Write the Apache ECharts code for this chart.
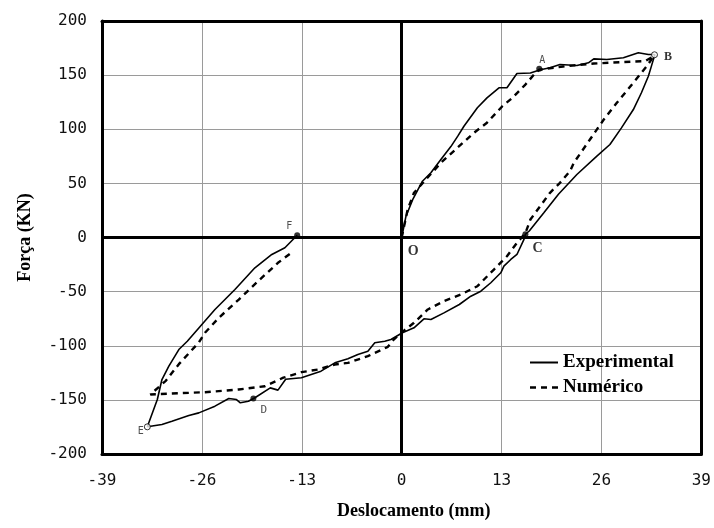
<!DOCTYPE html>
<html>
<head>
<meta charset="utf-8">
<script src="https://cdn.jsdelivr.net/npm/echarts@6/dist/echarts.min.js"></script>
<style>html,body{margin:0;padding:0;background:#fff}#c{width:714px;height:528px}</style>
</head>
<body>
<div id="c"></div>
<script>
// ---- data ----
var xTicks = [-39, -26, -13, 0, 13, 26, 39];
var yTicks = [-200, -150, -100, -50, 0, 50, 100, 150, 200];

var expX = [0, 0.56, 1.43, 2.7, 3.8, 5.1, 6.4, 7.3, 8.1, 9.85, 11.1, 12.66, 13.7, 15.0, 16.75, 18.05, 19.3, 20.6, 22.8, 24.3, 25.0, 26.7, 28.85, 30.8, 32.1, 32.95, 32.5, 32.1, 31.2, 30.15, 28.6, 27.1, 25.4, 22.8, 20.4, 18.5, 16.6, 16.1, 15.9, 15.0, 14.2, 13.3, 12.9, 11.6, 10.3, 9.0, 7.5, 5.5, 3.8, 2.9, 1.6, 0.1, -1.4, -2.2, -3.5, -4.4, -5.7, -7.0, -8.7, -10.5, -13.05, -15.1, -16.1, -17.1, -19.1, -19.95, -21.0, -21.5, -22.5, -24.3, -26.4, -27.7, -29.9, -31.2, -33.1, -31.8, -31.2, -30.3, -29.0, -27.9, -26.2, -24.3, -21.7, -19.1, -16.9, -15.2, -13.6];
var expY = [0, 19.7, 35, 52, 59.8, 72, 84, 93.6, 102.8, 119.8, 129, 138.3, 138.3, 151.5, 152, 155, 156.8, 159.8, 158.9, 161.4, 165, 164.4, 166, 170.6, 169, 169, 158.3, 149, 133.7, 118.2, 101.3, 85.9, 75.1, 58.2, 40, 22.8, 6, 3, -2, -15.7, -20.3, -26.5, -32.6, -41.8, -49.6, -54.2, -61.9, -69.6, -75.8, -75.1, -83.4, -88, -94.2, -95.8, -97.3, -105, -108, -112, -115.8, -123.5, -129.6, -131, -141, -138.9, -148, -151.2, -152.7, -149.7, -148.7, -155.8, -162, -164.4, -169.7, -172.7, -174.9, -149.7, -131.2, -118.9, -103.5, -95.8, -81.9, -66.5, -48, -28, -15.7, -9.5, 2.1];

var numX = [0, 0.78, 1.6, 3.15, 5.1, 7.0, 9.4, 11.1, 13.1, 14.4, 16.1, 17.4, 17.9, 21, 25.0, 28.5, 31.7, 32.8, 31.9, 30.15, 28.0, 26.3, 24.5, 22.4, 21.9, 20.6, 19.3, 16.75, 16.1, 15.0, 13.7, 12.0, 9.85, 7.7, 5.5, 3.4, 1.6, 0.3, -1.0, -1.8, -4.4, -7.0, -8.7, -10.9, -13.05, -15.4, -17.8, -21.2, -25.6, -29.9, -32.7, -30.7, -29.0, -26.4, -25.6, -23.8, -21.2, -18.7, -16.1, -14.1];
var numY = [0, 25.9, 41.3, 53.6, 69, 81.3, 96.7, 106, 121.3, 129, 141.3, 152, 155, 158, 160.7, 162, 163, 167.5, 158.3, 143, 124.4, 109, 90.5, 69, 61.2, 50.5, 41.3, 16.6, 4, -4.9, -17.3, -29.6, -45, -52.7, -58.8, -66.5, -78.8, -86, -94, -101, -109.6, -115.8, -117.3, -122, -124.4, -129.5, -137.4, -140.4, -142.9, -144.1, -145, -132.4, -117, -97, -88, -74.2, -57.3, -40.4, -23.4, -12.7];

var ptNames = ['O', 'A', 'B', 'C', 'D', 'E', 'F'];
var ptX = [0, 17.9, 32.9, 16.1, -19.3, -33.1, -13.6];
var ptY = [0, 155.8, 168.8, 3, -148.7, -174.9, 2.1];

function pairs(xs, ys) { return xs.map(function (x, i) { return [x, ys[i]]; }); }

var serifBold = { fontFamily: 'Liberation Serif', fontWeight: 'bold', color: '#000' };
var monoSmall = { fontFamily: 'DejaVu Sans Mono', color: '#222' };
var labelCfg = {
  O: { position: [6, 7], font: serifBold, size: 14 },
  A: { position: [3, -10], font: monoSmall, size: 10 },
  B: { position: [13, 0], font: serifBold, size: 12 },
  C: { position: [10, 10], font: serifBold, size: 14 },
  D: { position: [10, 9], font: monoSmall, size: 11 },
  E: { position: [-6, 3], font: monoSmall, size: 10 },
  F: { position: [-8, -11], font: monoSmall, size: 10 }
};
var openPts = { B: true, E: true };

var ptData = ptNames.map(function (n, i) {
  var c = labelCfg[n];
  return {
    name: n,
    value: [ptX[i], ptY[i]],
    symbolSize: n === 'O' ? 0 : 6,
    itemStyle: openPts[n] ? { color: '#fff', borderColor: '#000', borderWidth: 1 } : { color: '#000' },
    label: {
      show: true, formatter: n, position: c.position,
      fontFamily: c.font.fontFamily, fontWeight: c.font.fontWeight || 'normal',
      color: c.font.color, fontSize: c.size
    }
  };
});

var tickFont = { fontFamily: 'DejaVu Sans Mono', fontSize: 16, color: '#111' };

var chart = echarts.init(document.getElementById('c'), null, { renderer: 'canvas' });
chart.setOption({
  animation: false,
  backgroundColor: '#fff',
  grid: { left: 102, right: 10, top: 21, bottom: 74, containLabel: false },
  legend: {
    orient: 'vertical', left: 525, top: 348,
    itemWidth: 28, itemHeight: 14, itemGap: 6,
    data: [
      { name: 'Experimental', icon: 'path://M0,0h28v2h-28z' },
      { name: 'Numérico', icon: 'path://M0,0h6v2.4h-6z M11,0h6v2.4h-6z M22,0h6v2.4h-6z' }
    ],
    itemStyle: { color: '#000', borderWidth: 0 },
    textStyle: { fontFamily: 'Liberation Serif', fontWeight: 'bold', fontSize: 19, color: '#000' }
  },
  xAxis: [{
    type: 'value', min: -39, max: 39, interval: 13, position: 'bottom',
    axisLine: { show: true, onZero: false, lineStyle: { color: '#000', width: 3 } },
    axisTick: { show: false },
    splitLine: { show: true, showMinLine: false, showMaxLine: false, lineStyle: { color: '#9a9a9a', width: 1 } },
    axisLabel: Object.assign({ margin: 19 }, tickFont),
    name: 'Deslocamento (mm)', nameLocation: 'middle', nameGap: 48,
    nameTextStyle: { fontFamily: 'Liberation Serif', fontWeight: 'bold', fontSize: 18, color: '#000', padding: [0, 0, 0, 24] }
  }, {
    type: 'value', min: -39, max: 39, interval: 13, position: 'top',
    axisLine: { show: true, onZero: false, lineStyle: { color: '#000', width: 3 } },
    axisTick: { show: false }, axisLabel: { show: false }, splitLine: { show: false }
  }],
  yAxis: [{
    type: 'value', min: -200, max: 200, interval: 50, position: 'left',
    axisLine: { show: true, onZero: false, lineStyle: { color: '#000', width: 3 } },
    axisTick: { show: false },
    splitLine: { show: true, showMinLine: false, showMaxLine: false, lineStyle: { color: '#9a9a9a', width: 1 } },
    axisLabel: Object.assign({ margin: 15 }, tickFont),
    name: 'Força (KN)', nameLocation: 'middle', nameGap: 68,
    nameTextStyle: { fontFamily: 'Liberation Serif', fontWeight: 'bold', fontSize: 18, color: '#000' }
  }, {
    type: 'value', min: -200, max: 200, interval: 50, position: 'right',
    axisLine: { show: true, onZero: false, lineStyle: { color: '#000', width: 3 } },
    axisTick: { show: false }, axisLabel: { show: false }, splitLine: { show: false }
  }],
  series: [{
    name: 'Experimental', type: 'line', xAxisIndex: 0, yAxisIndex: 0,
    data: pairs(expX, expY), symbol: 'none', smooth: false,
    lineStyle: { color: '#000', width: 1.6, type: 'solid' },
    itemStyle: { color: '#000' },
    markLine: {
      silent: true, symbol: ['none', 'none'], label: { show: false },
      lineStyle: { color: '#000', width: 3, type: 'solid' },
      data: [{ xAxis: 0 }, { yAxis: 0 }]
    }
  }, {
    name: 'Numérico', type: 'line', xAxisIndex: 0, yAxisIndex: 0,
    data: pairs(numX, numY), symbol: 'none', smooth: false,
    lineStyle: { color: '#000', width: 2.4, type: [6, 5] },
    itemStyle: { color: '#000' }
  }, {
    name: 'pts', type: 'scatter', xAxisIndex: 0, yAxisIndex: 0,
    data: ptData, symbol: 'circle', z: 5
  }]
});
</script>
</body>
</html>
